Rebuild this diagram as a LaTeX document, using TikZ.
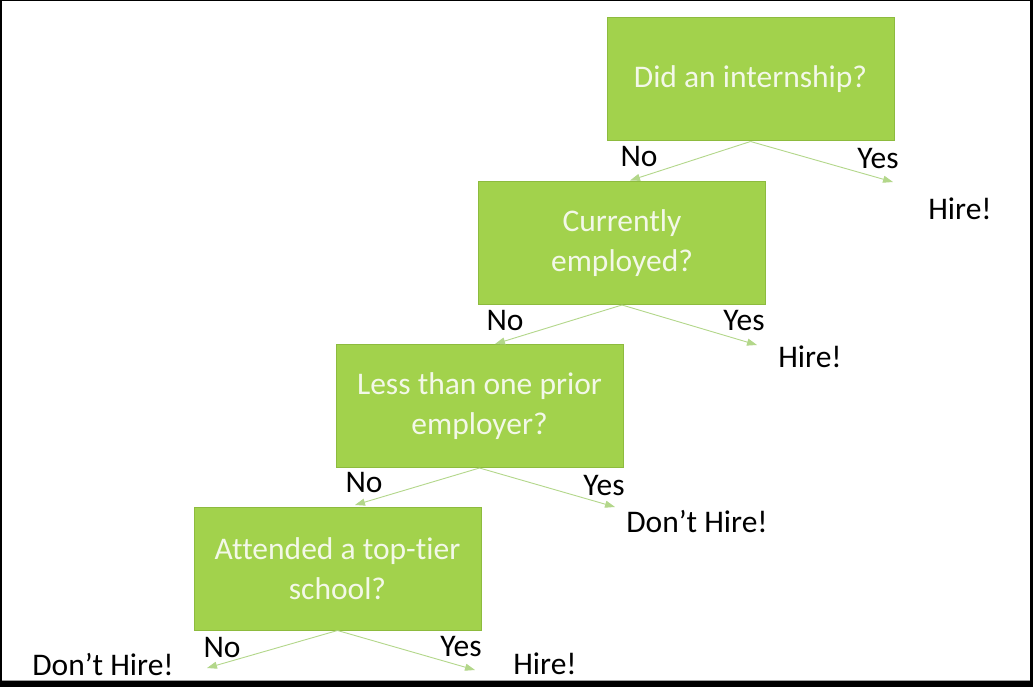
\documentclass[tikz,border=0pt]{standalone}
\usepackage{fontspec}
\setmainfont{Carlito}[Ligatures={NoCommon}]
\usetikzlibrary{arrows.meta}
\definecolor{boxgreen}{HTML}{A2D24C}
\definecolor{boxedge}{HTML}{8DBB3E}
\definecolor{boxtext}{HTML}{F3F8E8}
\definecolor{arrowgreen}{HTML}{B3D78A}
\definecolor{frameline}{HTML}{A0A0A0}
\tikzset{
  qbox/.style={draw=boxedge, fill=boxgreen, text=boxtext, line width=1pt,
    minimum width=287pt, minimum height=123pt, inner sep=0pt, align=center,
    font=\fontsize{31.5}{40}\selectfont},
  lbl/.style={text=black, inner sep=0pt, font=\fontsize{31.5}{38}\selectfont},
  conn/.style={draw=arrowgreen, line width=0.9pt,
    -{Triangle[length=10pt,width=7pt,fill=arrowgreen]}}
}
\begin{document}
\begin{tikzpicture}[x=1pt,y=-1pt]
  \useasboundingbox (0,0) rectangle (1033,687);
  % frame
  \fill[black] (0,0) rectangle (1033,687);
  \fill[white] (2,1) rectangle (1030,681);
  \draw[frameline, line width=1pt] (2,680.5) -- (1030,680.5);

  % boxes
  \node[qbox] (b1) at (750.5,79.5) {Did an internship?};
  \node[qbox] (b2) at (622,243) {Currently\\employed?};
  \node[qbox] (b3) at (479.5,406) {Less than one prior\\employer?};
  \node[qbox] (b4) at (337.5,568.5) {Attended a top-tier\\school?};

  % free arrow ends
  \coordinate (n1) at (630,180.5);
  \coordinate (y1) at (893,182);
  \coordinate (n2) at (495,344);
  \coordinate (y2) at (757,345);
  \coordinate (n3) at (355,505);
  \coordinate (y3) at (615,507);
  \coordinate (n4) at (207,668);
  \coordinate (y4) at (475,670);

  % connectors
  \draw[conn] (b1.south) -- (n1);
  \draw[conn] (b1.south) -- (y1);
  \draw[conn] (b2.south) -- (n2);
  \draw[conn] (b2.south) -- (y2);
  \draw[conn] (b3.south) -- (n3);
  \draw[conn] (b3.south) -- (y3);
  \draw[conn] (b4.south) -- (n4);
  \draw[conn] (b4.south) -- (y4);

  % labels
  \node[lbl] (no1) at (639,157) {No};
  \node[lbl] (yes1) at (878,159) {Yes};
  \node[lbl] (h1) at (960,209) {Hire!};
  \node[lbl] (no2) at (505,321) {No};
  \node[lbl] (yes2) at (744,321) {Yes};
  \node[lbl] (h2) at (810,357) {Hire!};
  \node[lbl] (no3) at (364,482) {No};
  \node[lbl] (yes3) at (604,486) {Yes};
  \node[lbl] (d3) at (697,522) {Don’t Hire!};
  \node[lbl] (no4) at (222,647) {No};
  \node[lbl] (yes4) at (461,647) {Yes};
  \node[lbl] (d4) at (103,665) {Don’t Hire!};
  \node[lbl] (h4) at (545,664) {Hire!};
\end{tikzpicture}
\end{document}
